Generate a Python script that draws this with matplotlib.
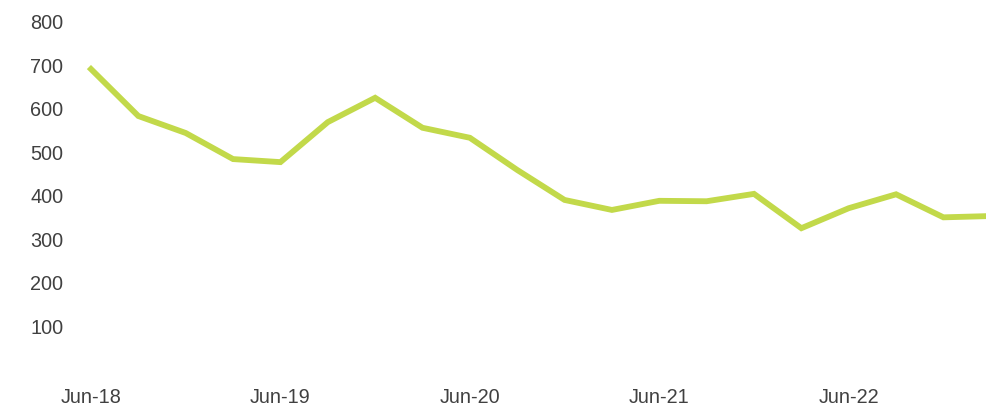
import matplotlib
matplotlib.use("Agg")
import matplotlib.pyplot as plt
import numpy as np

# Quarterly values, Jun-18 to Mar-23
quarters = ["Jun-18", "Sep-18", "Dec-18", "Mar-19", "Jun-19", "Sep-19", "Dec-19",
            "Mar-20", "Jun-20", "Sep-20", "Dec-20", "Mar-21", "Jun-21", "Sep-21",
            "Dec-21", "Mar-22", "Jun-22", "Sep-22", "Dec-22", "Mar-23"]
values = [691, 583, 544, 484, 477, 569, 625, 556, 533, 459, 390, 367, 388, 387,
          404, 325, 371, 403, 350, 353]
xtick_labels = ["Jun-18", "Jun-19", "Jun-20", "Jun-21", "Jun-22"]
ytick_values = [100, 200, 300, 400, 500, 600, 700, 800]

plt.rcParams['font.family'] = ['Liberation Sans', 'DejaVu Sans']

fig = plt.figure(figsize=(9.87, 4.05), dpi=100)
ax = fig.add_axes([91 / 987, 35.5 / 405, 1 - 91 / 987, (383.3 - 35.5) / 405])

x = np.arange(len(values))
ax.plot(x, values, color='#c2d94a', linewidth=4.2, solid_joinstyle='miter',
        clip_on=False)

ax.set_xlim(0, 18.92)
ax.set_ylim(0, 800)

ax.set_xticks([quarters.index(q) for q in xtick_labels])
ax.set_xticklabels(xtick_labels)
ax.set_yticks(ytick_values)
ax.set_yticklabels([str(v) for v in ytick_values])

ax.tick_params(axis='both', length=0, labelsize=14.3, labelcolor='#404040')
ax.tick_params(axis='y', pad=20)
ax.tick_params(axis='x', pad=13)

for s in ax.spines.values():
    s.set_visible(False)

fig.savefig("out.png", dpi=100)
